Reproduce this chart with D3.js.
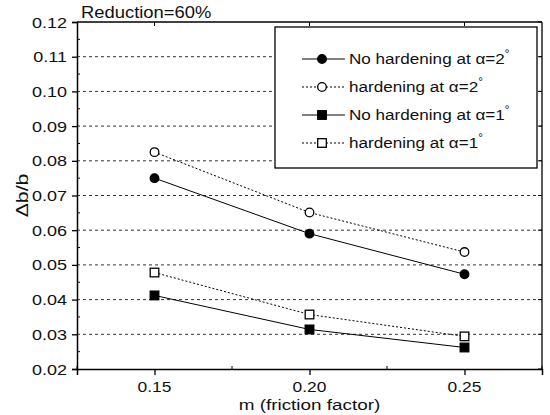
<!DOCTYPE html>
<html>
<head>
<meta charset="utf-8">
<script src="https://cdn.jsdelivr.net/npm/d3@7"></script>
<style>
  body { margin: 0; background: #fff; }
  svg { font-family: "Liberation Sans", Arial, sans-serif; }
</style>
</head>
<body>
<svg id="chart" width="550" height="415"></svg>
<script>
// friction factor m on the x axis
const mValues = [0.15, 0.20, 0.25];
// db/b values
const noHard2 = [0.0750, 0.0590, 0.0473];
const hard2 = [0.0825, 0.0651, 0.0537];
const noHard1 = [0.0412, 0.0314, 0.0262];
const hard1 = [0.0478, 0.0357, 0.0294];

const xTicks = [0.15, 0.20, 0.25];
const xMinor = [0.125, 0.175, 0.225, 0.275];
const yTicks = [0.02, 0.03, 0.04, 0.05, 0.06, 0.07, 0.08, 0.09, 0.10, 0.11, 0.12];
const yMinor = [0.025, 0.035, 0.045, 0.055, 0.065, 0.075, 0.085, 0.095, 0.105, 0.115];

const series = [
    {name: 'No hardening at \u03b1=2', values: noHard2, dash: null, shape: 'circle', fill: '#000'},
    {name: 'hardening at \u03b1=2', values: hard2, dash: '2,2', shape: 'circle', fill: '#fff'},
    {name: 'No hardening at \u03b1=1', values: noHard1, dash: null, shape: 'square', fill: '#000'},
    {name: 'hardening at \u03b1=1', values: hard1, dash: '2,2', shape: 'square', fill: '#fff'}
];

const svg = d3.select('#chart');
const pLeft = 77, pRight = 542, pTop = 22, pBottom = 369;

const x = d3.scaleLinear().domain([0.125, 0.275]).range([pLeft, pRight]);
const y = d3.scaleLinear().domain([0.02, 0.12]).range([pBottom, pTop]);

// stretched text, the original font is wider than Arial
function label(g, px, py, txt, anchor, size, sx) {
    return g.append('text')
        .attr('transform', 'translate(' + px + ',' + py + ') scale(' + sx + ',1)')
        .attr('text-anchor', anchor)
        .attr('font-size', size + 'px')
        .attr('fill', '#111')
        .text(txt);
}

// dotted gridlines
svg.append('g').selectAll('line')
    .data(yTicks.filter(d => d > 0.021 && d < 0.119))
    .enter().append('line')
    .attr('x1', pLeft).attr('x2', pRight)
    .attr('y1', d => y(d)).attr('y2', d => y(d))
    .attr('stroke', '#333')
    .attr('stroke-width', 1)
    .attr('stroke-dasharray', '3,3');

// axes
const yAxis = d3.axisLeft(y).tickValues(yTicks).tickSize(5).tickFormat(d3.format('.2f'));
const gy = svg.append('g').attr('transform', 'translate(' + pLeft + ',0)').call(yAxis);
gy.selectAll('text').remove();
const xAxis = d3.axisBottom(x).tickValues(xTicks).tickSize(6).tickFormat('');
const gx = svg.append('g').attr('transform', 'translate(0,' + pBottom + ')').call(xAxis);
[gx, gy].forEach(g => {
    g.select('.domain').attr('stroke', '#000').attr('stroke-width', 1.5);
    g.selectAll('.tick line').attr('stroke', '#000').attr('stroke-width', 1.3);
});

// minor ticks, inward
svg.append('g').selectAll('line').data(yMinor).enter().append('line')
    .attr('x1', pLeft).attr('x2', pLeft + 3)
    .attr('y1', d => y(d)).attr('y2', d => y(d))
    .attr('stroke', '#000');
svg.append('g').selectAll('line').data(xMinor).enter().append('line')
    .attr('x1', d => x(d)).attr('x2', d => x(d))
    .attr('y1', pBottom).attr('y2', pBottom - 3)
    .attr('stroke', '#000');

// top and right frame with small inward ticks
svg.append('line').attr('x1', pLeft).attr('x2', pRight).attr('y1', pTop).attr('y2', pTop)
    .attr('stroke', '#000').attr('stroke-width', 1.3);
svg.append('line').attr('x1', pRight).attr('x2', pRight).attr('y1', pTop).attr('y2', pBottom)
    .attr('stroke', '#000').attr('stroke-width', 1.3);
svg.append('g').selectAll('line').data(yTicks).enter().append('line')
    .attr('x1', pRight - 4).attr('x2', pRight)
    .attr('y1', d => y(d)).attr('y2', d => y(d))
    .attr('stroke', '#000');
svg.append('g').selectAll('line').data(xTicks).enter().append('line')
    .attr('x1', d => x(d)).attr('x2', d => x(d))
    .attr('y1', pTop).attr('y2', pTop + 4)
    .attr('stroke', '#000');

// tick labels
yTicks.forEach(d => label(svg, pLeft - 10, y(d) + 5.5, d3.format('.2f')(d), 'end', 15, 1.2));
xTicks.forEach(d => label(svg, x(d), pBottom + 23, d3.format('.2f')(d), 'middle', 14.5, 1.2));

// axis titles
label(svg, (pLeft + pRight) / 2, 410, 'm (friction factor)', 'middle', 15.5, 1.22);
svg.append('text')
    .attr('transform', 'translate(28,' + ((pTop + pBottom) / 2) + ') rotate(-90) scale(1.25,1)')
    .attr('text-anchor', 'middle')
    .attr('font-size', '17px')
    .attr('fill', '#111')
    .text('\u0394b/b');
label(svg, 81, 18, 'Reduction=60%', 'start', 16, 1.15);

// series lines and markers
const line = d3.line().x((d, i) => x(mValues[i])).y(d => y(d));

function marker(g, shape, fill, cx, cy) {
    if (shape === 'circle') {
        g.append('circle').attr('cx', cx).attr('cy', cy).attr('r', 4.3)
            .attr('fill', fill).attr('stroke', '#000').attr('stroke-width', 1.3);
    } else {
        g.append('rect').attr('x', cx - 4.3).attr('y', cy - 4.3)
            .attr('width', 8.6).attr('height', 8.6)
            .attr('fill', fill).attr('stroke', '#000').attr('stroke-width', 1.3);
    }
}

const plot = svg.append('g');
series.forEach(s => {
    plot.append('path')
        .attr('d', line(s.values))
        .attr('fill', 'none')
        .attr('stroke', '#000')
        .attr('stroke-width', 1)
        .attr('stroke-dasharray', s.dash);
    s.values.forEach((v, i) => marker(plot, s.shape, s.fill, x(mValues[i]), y(v)));
});

// legend
const lg = svg.append('g');
lg.append('rect')
    .attr('x', 275).attr('y', 27).attr('width', 262).attr('height', 141)
    .attr('fill', '#fff').attr('stroke', '#000').attr('stroke-width', 1.3);
series.forEach((s, i) => {
    const ry = 59 + i * 28;
    lg.append('line').attr('x1', 302).attr('x2', 345).attr('y1', ry).attr('y2', ry)
        .attr('stroke', '#000').attr('stroke-width', 1).attr('stroke-dasharray', s.dash);
    marker(lg, s.shape, s.fill, 322, ry);
    const t = label(lg, 349, ry + 5, s.name, 'start', 14.5, 1.18);
    t.append('tspan').attr('dy', -7).attr('font-size', '10px').text('\u00b0');
});
</script>
</body>
</html>
